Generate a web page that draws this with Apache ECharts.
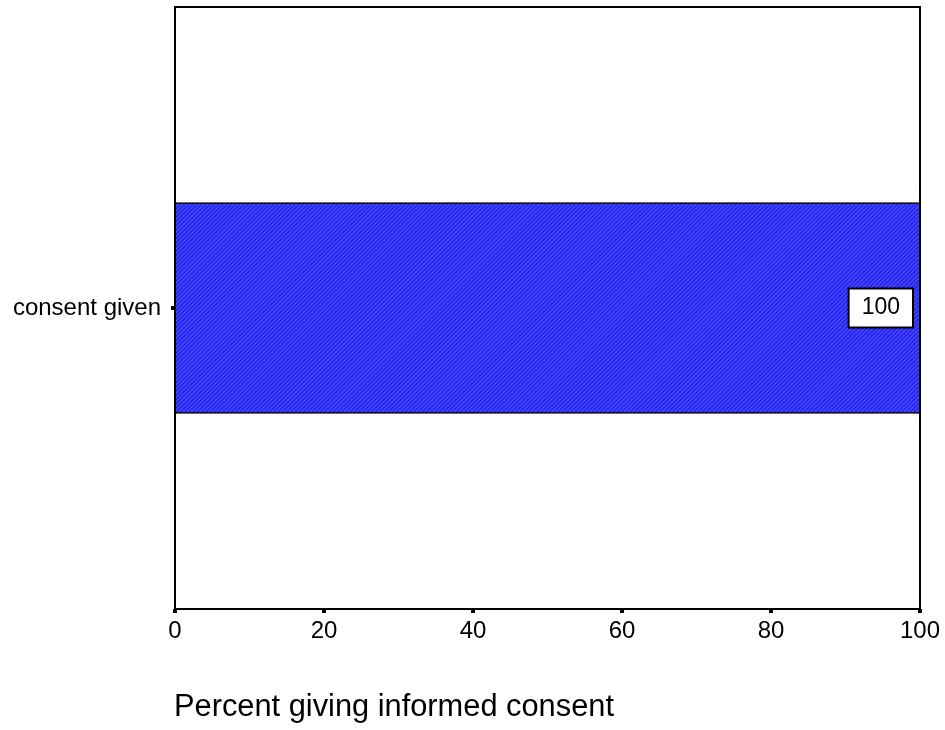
<!DOCTYPE html>
<html><head><meta charset="utf-8">
<script src="https://cdn.jsdelivr.net/npm/echarts@6/dist/echarts.min.js"></script>
<style>html,body{margin:0;padding:0;background:#fff}#c{width:945px;height:730px}</style>
</head><body><div id="c"></div>
<script>
const categories = ['consent given'];
const percentValues = [100];
const xTicks = [0, 20, 40, 60, 80, 100];
const axisTitle = 'Percent giving informed consent';

const FONT = 'Liberation Sans, Arial, sans-serif';
const chart = echarts.init(document.getElementById('c'), null, {renderer: 'canvas'});
chart.setOption({
  animation: false,
  backgroundColor: '#ffffff',
  textStyle: {fontFamily: FONT},
  title: {
    text: axisTitle, left: 169, top: 687,
    textStyle: {fontSize: 30.8, fontWeight: 'normal', color: '#000', fontFamily: FONT}
  },
  grid: {left: 175, right: 25, top: 7, bottom: 121, show: true, borderColor: '#000', borderWidth: 2, containLabel: false},
  xAxis: {
    type: 'value', min: xTicks[0], max: xTicks[xTicks.length - 1], interval: 20,
    axisLine: {show: true, lineStyle: {color: '#000', width: 2}},
    axisTick: {show: true, length: 4, inside: false, lineStyle: {color: '#000', width: 4}},
    axisLabel: {color: '#000', fontSize: 24, margin: 10, fontFamily: FONT},
    splitLine: {show: false}
  },
  yAxis: {
    type: 'category', data: categories,
    axisLine: {show: true, lineStyle: {color: '#000', width: 2}},
    axisTick: {show: true, alignWithLabel: true, length: 4, lineStyle: {color: '#000', width: 4}},
    axisLabel: {color: '#000', fontSize: 24, margin: 14, fontFamily: FONT}
  },
  series: [{
    type: 'bar', data: percentValues,
    barCategoryGap: '65%',
    itemStyle: {
      color: '#2626f2', borderColor: '#000', borderWidth: 1,
      decal: {symbol: 'rect', symbolSize: 1, dashArrayX: [1, 0], dashArrayY: [1, 2], rotation: -Math.PI / 4, color: 'rgba(100,100,255,0.7)'}
    },
    label: {
      show: true, position: 'insideRight', distance: 8,
      color: '#000', fontSize: 23, backgroundColor: '#fff', borderColor: '#000', borderWidth: 2,
      padding: [8, 12, 6, 12], fontFamily: FONT
    }
  }]
});
</script></body></html>
